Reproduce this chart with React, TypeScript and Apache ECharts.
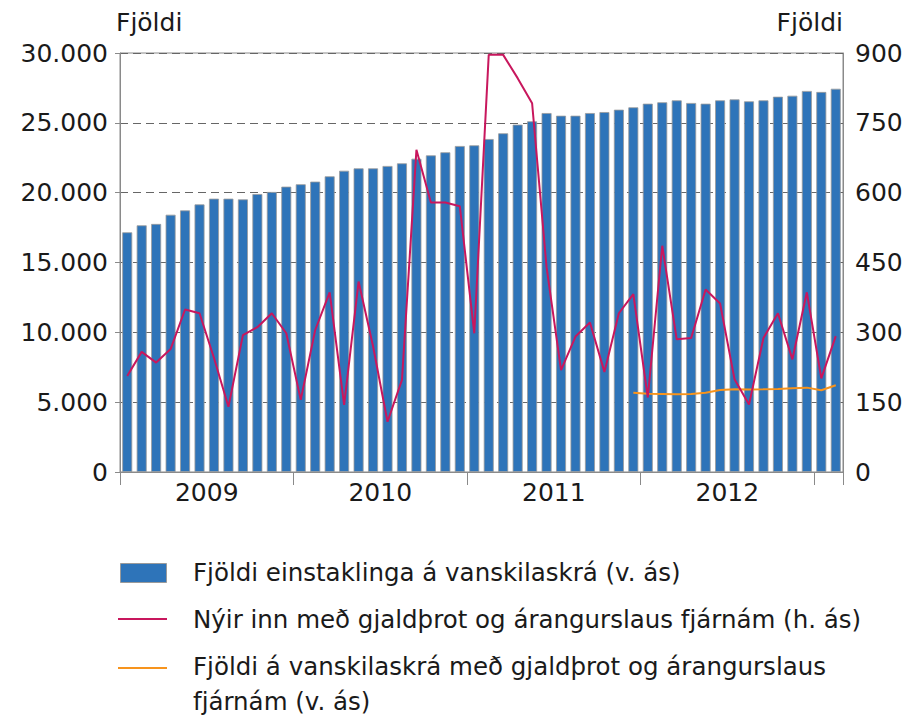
import React, { useEffect, useRef } from "react";
import * as echarts from "echarts";

const months: string[] = [
  "2009-01","2009-02","2009-03","2009-04","2009-05","2009-06","2009-07","2009-08","2009-09","2009-10","2009-11","2009-12",
  "2010-01","2010-02","2010-03","2010-04","2010-05","2010-06","2010-07","2010-08","2010-09","2010-10","2010-11","2010-12",
  "2011-01","2011-02","2011-03","2011-04","2011-05","2011-06","2011-07","2011-08","2011-09","2011-10","2011-11","2011-12",
  "2012-01","2012-02","2012-03","2012-04","2012-05","2012-06","2012-07","2012-08","2012-09","2012-10","2012-11","2012-12",
  "2013-01","2013-02",
];

const yearLabels: Record<number, string> = { 6: "2009", 18: "2010", 30: "2011", 42: "2012" };

// Fjöldi einstaklinga á vanskilaskrá (v. ás)
const defaulters: number[] = [
  17160, 17660, 17760, 18420, 18730, 19160, 19570, 19570, 19520, 19900, 20050, 20430,
  20600, 20790, 21170, 21570, 21740, 21740, 21910, 22100, 22430, 22670, 22890, 23340,
  23390, 23840, 24250, 24870, 25110, 25700, 25510, 25510, 25700, 25770, 25940, 26110,
  26370, 26470, 26610, 26420, 26370, 26610, 26680, 26540, 26610, 26870, 26940, 27280,
  27210, 27440,
];

// Nýir inn með gjaldþrot og árangurslaus fjárnám (h. ás)
const newEntries: number[] = [
  206, 258, 235, 264, 349, 341, 245, 140, 294, 311, 341, 298,
  155, 305, 386, 144, 409, 270, 108, 198, 692, 579, 579, 571,
  298, 896, 896, 846, 792, 440, 219, 291, 321, 215, 341, 382,
  160, 486, 285, 288, 392, 362, 199, 145, 288, 341, 242, 386,
  201, 292,
];

// Fjöldi á vanskilaskrá með gjaldþrot og árangurslaus fjárnám (v. ás), from 2011-12
const bankruptStart = 35;
const bankruptDefaulters: number[] = [
  5680, 5610, 5590, 5560, 5590, 5680, 5870, 5920, 5900, 5920, 5950, 6000, 6040, 5850, 6210,
];

const legendNames: string[] = [
  "Fjöldi einstaklinga á vanskilaskrá (v. ás)",
  "Nýir inn með gjaldþrot og árangurslaus fjárnám (h. ás)",
  "Fjöldi á vanskilaskrá með gjaldþrot og árangurslaus\nfjárnám (v. ás)",
];

const BLUE = "#2e74b9";
const PINK = "#c8175d";
const ORANGE = "#f7941d";
const FONT = "DejaVu Sans";
const TXT = "#1a1a1a";
const AXIS = "#8a8a8a";
const LEGEND_FONT = `24.5px '${FONT}'`;

export default function App() {
  const ref = useRef<HTMLDivElement>(null);
  useEffect(() => {
    if (!ref.current) return;
    const chart = echarts.init(ref.current, null, { renderer: "svg" });
    const orangeData = (new Array(bankruptStart).fill(null) as (number | null)[]).concat(bankruptDefaulters);
    chart.setOption({
      animation: false,
      textStyle: { fontFamily: FONT, color: TXT },
      grid: {
        left: 120, right: 69, top: 53, bottom: 246,
        show: true, borderColor: AXIS, borderWidth: 1, backgroundColor: "transparent",
      },
      xAxis: [
        {
          type: "category",
          data: months,
          boundaryGap: true,
          axisLine: { show: true, lineStyle: { color: AXIS, width: 1 } },
          axisTick: { show: true, interval: (i: number) => i % 12 === 0, length: 13, lineStyle: { color: AXIS } },
          axisLabel: { show: false },
          splitLine: { show: false },
        },
        {
          type: "value",
          min: 0, max: 50, interval: 6,
          position: "bottom",
          axisLine: { show: false },
          axisTick: { show: false },
          splitLine: { show: false },
          axisLabel: {
            show: true, fontFamily: FONT, fontSize: 25, color: TXT, margin: 8,
            showMaxLabel: false, showMinLabel: false,
            formatter: (v: number) => yearLabels[v] || "",
          },
        },
      ],
      yAxis: [
        {
          type: "value", min: 0, max: 30000, interval: 5000,
          name: "Fjöldi", nameLocation: "end", nameGap: 18,
          nameTextStyle: { fontFamily: FONT, fontSize: 25, color: TXT, align: "left", verticalAlign: "bottom", padding: [0, 0, 0, -4] },
          axisLine: { show: true, lineStyle: { color: AXIS } },
          axisTick: { show: true, length: 5, lineStyle: { color: AXIS } },
          axisLabel: {
            fontFamily: FONT, fontSize: 25, color: TXT, margin: 12,
            formatter: (v: number) => String(v).replace(/\B(?=(\d{3})+(?!\d))/g, "."),
          },
          splitLine: { show: true, lineStyle: { color: "#666", type: [8, 5], width: 1 } },
        },
        {
          type: "value", min: 0, max: 900, interval: 150, position: "right",
          name: "Fjöldi", nameLocation: "end", nameGap: 18,
          nameTextStyle: { fontFamily: FONT, fontSize: 25, color: TXT, align: "right", verticalAlign: "bottom" },
          axisLine: { show: true, lineStyle: { color: AXIS } },
          axisTick: { show: false },
          axisLabel: { fontFamily: FONT, fontSize: 25, color: TXT, margin: 12 },
          splitLine: { show: false },
        },
      ],
      series: [
        {
          name: legendNames[0], type: "bar", xAxisIndex: 0, yAxisIndex: 0,
          data: defaulters, barCategoryGap: "31%",
          itemStyle: { color: BLUE, borderColor: "#9a9a9a", borderWidth: 0.8 },
          z: 2,
        },
        {
          name: legendNames[1], type: "line", xAxisIndex: 0, yAxisIndex: 1,
          data: newEntries, symbol: "none", lineStyle: { color: PINK, width: 2 }, z: 4,
        },
        {
          name: legendNames[2], type: "line", xAxisIndex: 0, yAxisIndex: 0,
          data: orangeData, symbol: "none", lineStyle: { color: ORANGE, width: 2 }, z: 3,
        },
      ],
      graphic: [
        { type: "rect", left: 120, top: 563, shape: { width: 46, height: 19 }, style: { fill: BLUE, stroke: "#9a9a9a", lineWidth: 1 } },
        { type: "text", left: 193, top: 560, style: { text: legendNames[0], font: LEGEND_FONT, fill: TXT } },
        { type: "line", shape: { x1: 118, y1: 619, x2: 167, y2: 619 }, style: { stroke: PINK, lineWidth: 2 } },
        { type: "text", left: 193, top: 607, style: { text: legendNames[1], font: LEGEND_FONT, fill: TXT } },
        { type: "line", shape: { x1: 118, y1: 668, x2: 167, y2: 668 }, style: { stroke: ORANGE, lineWidth: 2 } },
        { type: "text", left: 193, top: 649, style: { text: legendNames[2], font: LEGEND_FONT, fill: TXT, lineHeight: 35 } },
      ],
    });
    return () => chart.dispose();
  }, []);
  return <div ref={ref} style={{ position: "absolute", left: 0, top: 0, width: 912, height: 718 }} />;
}
